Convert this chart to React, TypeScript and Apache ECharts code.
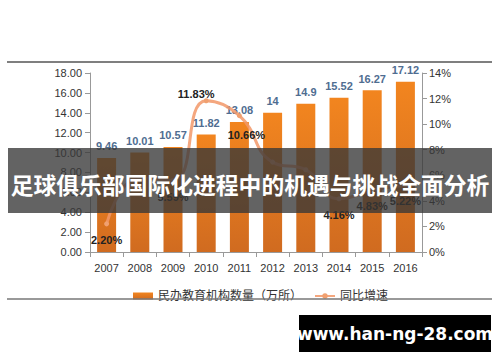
import React, { useEffect, useRef } from "react";
import * as echarts from "echarts";

const years = ["2007", "2008", "2009", "2010", "2011", "2012", "2013", "2014", "2015", "2016"];
const counts = [9.46, 10.01, 10.57, 11.82, 13.08, 14, 14.9, 15.52, 16.27, 17.12];
const growth = [2.2, 5.81, 5.59, 11.83, 10.66, 7.03, 6.43, 4.16, 4.83, 5.22];
const hiddenGrowthLabels = ["2008", "2012", "2013"];
const barName = "民办教育机构数量（万所）";
const lineName = "同比增速";
const bannerTitle = "足球俱乐部国际化进程中的机遇与挑战全面分析";
const siteText = "www.han-ng-28.com";

const FONT = "'Liberation Sans', 'Noto Sans CJK SC', sans-serif";

export default function App() {
  const ref = useRef<HTMLDivElement>(null);
  useEffect(() => {
    if (!ref.current) return;
    const chart = echarts.init(ref.current, null, { renderer: "svg" });
    const lineLabel = (i: number) => {
      if (hiddenGrowthLabels.includes(years[i])) return { show: false };
      if (i === 3) return { position: "top", offset: [-10, 6] };
      if (i === 4) return { position: "bottom", offset: [7, 6] };
      return { position: "bottom", offset: [0, 3] };
    };
    chart.setOption({
      animation: false,
      backgroundColor: "#ffffff",
      textStyle: { fontFamily: FONT },
      grid: { left: 90, right: 78, top: 73, bottom: 110 },
      legend: {
        left: 128,
        top: 285,
        itemGap: 12,
        itemWidth: 20,
        itemHeight: 7,
        textStyle: { fontSize: 12, color: "#333", fontFamily: FONT },
        data: [{ name: barName, icon: "rect" }, { name: lineName }],
      },
      xAxis: {
        type: "category",
        data: years,
        axisLine: { lineStyle: { color: "#999" } },
        axisTick: { show: true, lineStyle: { color: "#999" } },
        axisLabel: { color: "#333", fontSize: 11, margin: 10 },
      },
      yAxis: [
        {
          type: "value",
          min: 0,
          max: 18,
          interval: 2,
          axisLine: { show: true, lineStyle: { color: "#999" } },
          axisTick: { show: true, length: 5, lineStyle: { color: "#999" } },
          splitLine: { show: false },
          axisLabel: { color: "#333", fontSize: 11, margin: 8, formatter: (v: number) => v.toFixed(2) },
        },
        {
          type: "value",
          min: 0,
          max: 14,
          interval: 2,
          axisLine: { show: true, lineStyle: { color: "#999" } },
          axisTick: { show: true, length: 5, lineStyle: { color: "#999" } },
          splitLine: { show: false },
          axisLabel: { color: "#333", fontSize: 11, margin: 7, formatter: "{value}%" },
        },
      ],
      series: [
        {
          name: barName,
          type: "bar",
          data: counts,
          barWidth: 19,
          itemStyle: {
            color: new echarts.graphic.LinearGradient(0, 0, 0, 1, [
              { offset: 0, color: "#F2851F" },
              { offset: 1, color: "#D06B20" },
            ]),
          },
          label: {
            show: true,
            position: "top",
            distance: 6,
            color: "#4F6D91",
            fontSize: 11,
            fontWeight: "bold",
          },
          z: 2,
        },
        {
          name: lineName,
          type: "line",
          yAxisIndex: 1,
          smooth: 0.5,
          symbol: "circle",
          symbolSize: 5,
          data: growth.map((v, i) => ({ value: v, label: lineLabel(i) })),
          lineStyle: { color: "rgba(242,152,105,0.85)", width: 3 },
          itemStyle: { color: "#F0A070" },
          label: {
            show: true,
            color: "#222",
            fontSize: 11,
            fontWeight: "bold",
            formatter: (p: any) => Number(p.value).toFixed(2) + "%",
          },
          z: 3,
        },
      ],
      graphic: [
        { type: "line", z: 50, shape: { x1: 7, y1: 62, x2: 492, y2: 62 }, style: { stroke: "#555", lineWidth: 1.5 } },
        { type: "line", z: 50, shape: { x1: 7, y1: 299, x2: 492, y2: 299 }, style: { stroke: "#777", lineWidth: 1.5 } },
        {
          type: "rect",
          z: 100,
          shape: { x: 8, y: 148, width: 484, height: 65 },
          style: { fill: "rgba(55,55,55,0.78)" },
        },
        {
          type: "text",
          z: 101,
          x: 250,
          y: 184,
          style: {
            text: bannerTitle,
            fill: "#ffffff",
            font: "bold 22.8px 'Noto Sans CJK SC', sans-serif",
            align: "center",
            verticalAlign: "middle",
          },
        },
        {
          type: "rect",
          z: 100,
          shape: { x: 299, y: 315, width: 192, height: 37 },
          style: { fill: "#000000" },
        },
        {
          type: "text",
          z: 101,
          x: 395,
          y: 334,
          style: {
            text: siteText,
            fill: "#ffffff",
            font: "bold 17px 'DejaVu Sans', sans-serif",
            align: "center",
            verticalAlign: "middle",
          },
        },
      ],
    });
    return () => chart.dispose();
  }, []);
  return (
    <div
      ref={ref}
      style={{ position: "fixed", left: 0, top: 0, width: 500, height: 362, background: "#fff" }}
    />
  );
}
